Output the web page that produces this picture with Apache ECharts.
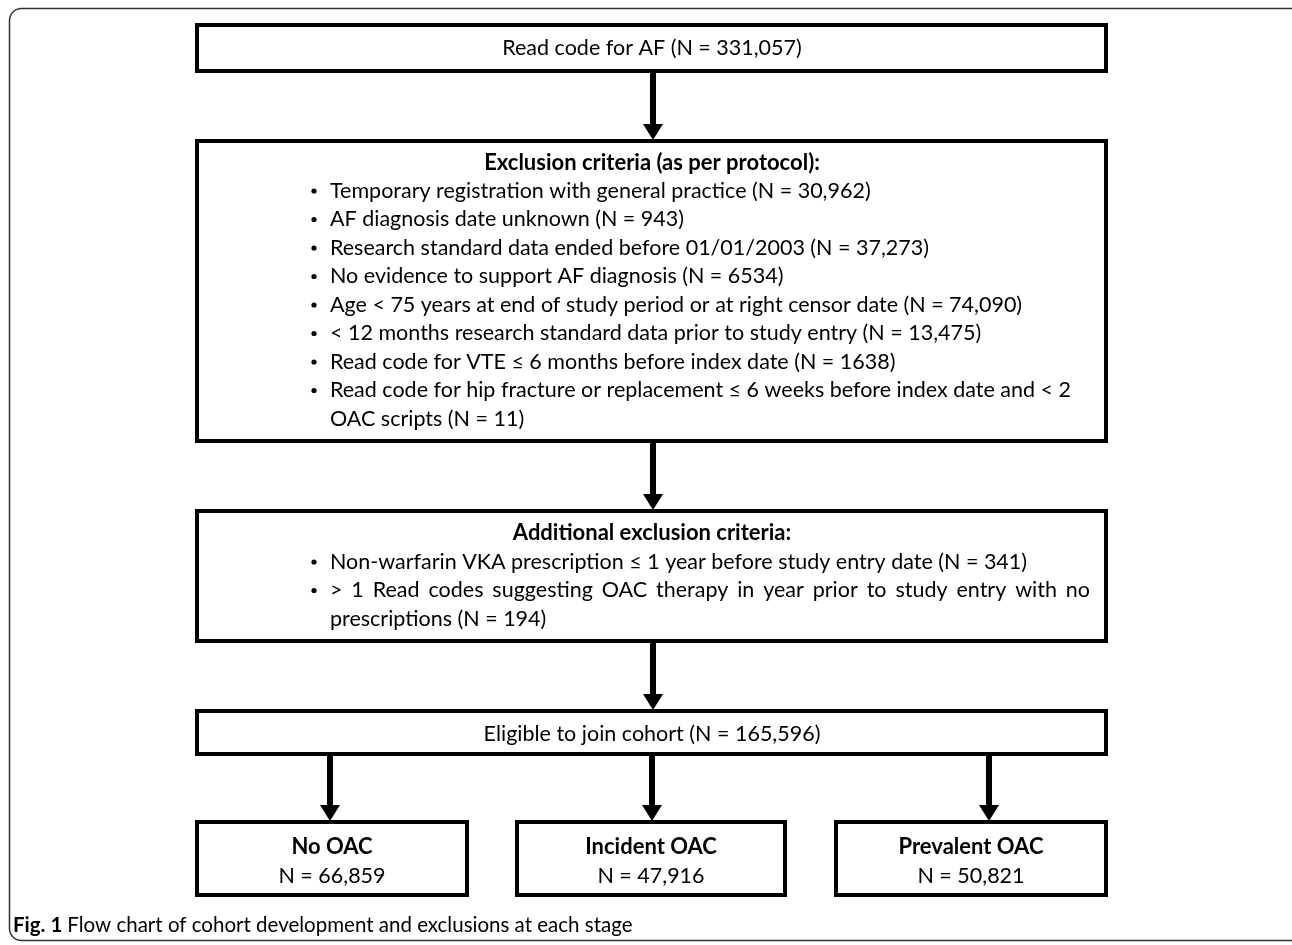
<!DOCTYPE html>
<html><head><meta charset="utf-8">
<script src="https://cdn.jsdelivr.net/npm/echarts@6/dist/echarts.min.js"></script>
<style>html,body{margin:0;padding:0;background:#fff}#c{width:1292px;height:945px}</style>
</head><body><div id="c"></div>
<script>
// ---- content ----
const topText = 'Read code for AF (N = 331,057)';
const exclusionTitle = 'Exclusion criteria (as per protocol):';
const exclusionItems = [
  'Temporary registration with general practice (N = 30,962)',
  'AF diagnosis date unknown (N = 943)',
  'Research standard data ended before 01/01/2003 (N = 37,273)',
  'No evidence to support AF diagnosis (N = 6534)',
  'Age < 75 years at end of study period or at right censor date (N = 74,090)',
  '< 12 months research standard data prior to study entry (N = 13,475)',
  'Read code for VTE \u2264 6 months before index date (N = 1638)',
  'Read code for hip fracture or replacement \u2264 6 weeks before index date and < 2\nOAC scripts (N = 11)'
];
const additionalTitle = 'Additional exclusion criteria:';
const additionalItems = [
  'Non-warfarin VKA prescription \u2264 1 year before study entry date (N = 341)',
  '> 1 Read codes suggesting OAC therapy in year prior to study entry with no\nprescriptions (N = 194)'
];
const eligibleText = 'Eligible to join cohort (N = 165,596)';
const groupNames = ['No OAC', 'Incident OAC', 'Prevalent OAC'];
const groupCounts = ['N = 66,859', 'N = 47,916', 'N = 50,821'];
const captionBold = 'Fig. 1';
const captionText = 'Flow chart of cohort development and exclusions at each stage';

// ---- layout ----
const FONT = 'Lato, "Liberation Sans", sans-serif';
const FS = 21.5;
const FSB = 22;
const L = 197, R = 1106, CX = 652;
const els = [];
const measureCtx = document.createElement('canvas').getContext('2d');

function box(x, y, w, h) {
  els.push({type: 'rect', shape: {x, y, width: w, height: h},
    style: {fill: '#fff', stroke: '#000', lineWidth: 4}, z: 1});
}
function arrow(x, y1, y2) {
  els.push({type: 'line', shape: {x1: x, y1: y1, x2: x, y2: y2 - 14},
    style: {stroke: '#000', lineWidth: 6}, z: 2});
  els.push({type: 'polygon', shape: {points: [[x - 10, y2 - 17], [x + 10, y2 - 17], [x, y2 - 1]]},
    style: {fill: '#000'}, z: 2});
}
function text(t, x, y, opts) {
  opts = opts || {};
  els.push({type: 'text', x, y, z: 3, style: {
    text: t, fill: '#000', fontFamily: FONT, fontSize: opts.size || FS,
    fontWeight: opts.bold ? 'bold' : 'normal',
    align: opts.align || 'left', verticalAlign: 'middle'}});
}
function justified(t, x, y, width) {
  const words = t.split(' ');
  measureCtx.font = FS + 'px ' + FONT;
  const ws = words.map(w => measureCtx.measureText(w).width);
  const total = ws.reduce((a, b) => a + b, 0);
  const gap = (width - total) / (words.length - 1);
  if (gap < measureCtx.measureText(' ').width) { text(t, x, y); return; }
  let cx = x;
  words.forEach((w, i) => { text(w, cx, y); cx += ws[i] + gap; });
}
function bullets(items, y0, step, justifyRight) {
  let y = y0;
  items.forEach(item => {
    const lines = item.split('\n');
    els.push({type: 'circle', shape: {cx: 314, cy: y, r: 2.6}, style: {fill: '#000'}, z: 3});
    lines.forEach((ln, i) => {
      if (i < lines.length - 1 && justifyRight) justified(ln, 330, y, justifyRight - 330);
      else text(ln, 330, y);
      y += step;
    });
  });
}

// outer frame
els.push({type: 'rect', shape: {x: 9.5, y: 8.5, width: 1300, height: 932, r: 12},
  style: {fill: 'none', stroke: '#333', lineWidth: 1.5}, z: 0});

// top box
box(L, 25, R - L, 46);
text(topText, CX, 48, {align: 'center'});
arrow(CX + 1, 71, 141);

// exclusion box
box(L, 141, R - L, 300);
text(exclusionTitle, CX, 163, {align: 'center', bold: true, size: FSB});
bullets(exclusionItems, 191, 28.5, 0);
arrow(CX + 1, 441, 511);

// additional exclusion box
box(L, 511, R - L, 130);
text(additionalTitle, CX, 533, {align: 'center', bold: true, size: FSB});
bullets(additionalItems, 562, 28.5, 1090);
arrow(CX + 1, 641, 711);

// eligible box
box(L, 711, R - L, 43);
text(eligibleText, CX, 734, {align: 'center'});

// group boxes
const gx = [[197, 467], [517, 785], [836, 1106]];
const ax = [330, 652, 989];
groupNames.forEach((g, i) => {
  arrow(ax[i], 754, 822);
  box(gx[i][0], 822, gx[i][1] - gx[i][0], 73);
  const c = (gx[i][0] + gx[i][1]) / 2;
  text(g, c, 847, {align: 'center', bold: true, size: FSB});
  text(groupCounts[i], c, 876, {align: 'center'});
});

// caption
measureCtx.font = 'bold 20.5px ' + FONT;
const bw = measureCtx.measureText(captionBold + ' ').width;
text(captionBold, 13, 925, {bold: true, size: 20.5});
text(captionText, 13 + bw, 925, {size: 20.5});

const chart = echarts.init(document.getElementById('c'), null, {renderer: 'canvas'});
chart.setOption({animation: false, graphic: {elements: els}});
</script>
</body></html>
